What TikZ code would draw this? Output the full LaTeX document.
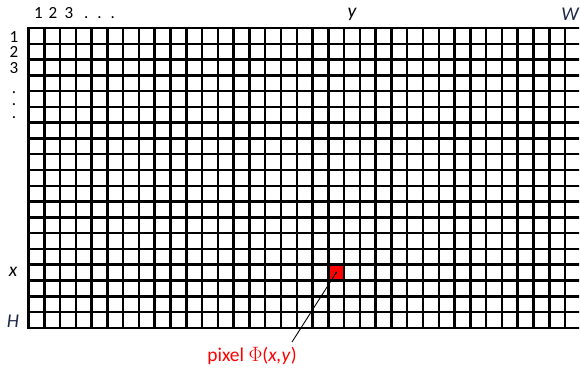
\documentclass[tikz,border=0pt]{standalone}
\usepackage{fontspec}
\setmainfont{Carlito}
\definecolor{navy}{HTML}{1F2A4A}
\definecolor{pixred}{HTML}{FF0000}
\begin{document}
\begin{tikzpicture}[x=1pt,y=-1pt,
  gridline/.style={line width=2.5pt,black},
  numlbl/.style={font=\fontsize{17}{17}\selectfont,inner sep=0pt},
  dotlbl/.style={font=\fontsize{17}{12.5}\selectfont,inner sep=0pt,align=center},
  varlbl/.style={font=\fontsize{19.5}{19.5}\selectfont\itshape,inner sep=0pt},
  redlbl/.style={font=\fontsize{19.5}{19.5}\selectfont,text=pixred,inner sep=0pt}]
\useasboundingbox (0,0) rectangle (580,372);
\def\px{15.78}
% red pixel
\fill[pixred] (28.5+19*\px,28+15*\px) rectangle (28.5+20*\px,28+16*\px);
\node[inner sep=0pt,minimum size=1pt] (pix) at (28.5+19.5*\px,28+15.5*\px) {};
% grid
\begin{scope}
\clip (0,0) rectangle (579,372);
\foreach \i in {0,...,35} {
  \draw[gridline] (28.5+\i*\px,28) -- (28.5+\i*\px,28+19*\px);
}
\foreach \j in {0,...,19} {
  \draw[gridline,line cap=rect] (28.5,28+\j*\px) -- (28.5+35*\px,28+\j*\px);
}
\end{scope}
% top labels
\node[numlbl] (t1) at (38.5,13) {1};
\node[numlbl] (t2) at (53,13) {2};
\node[numlbl] (t3) at (69,13) {3};
\node[numlbl,anchor=base] (tdots) at (99.5,18) {.\hspace{9pt}.\hspace{9pt}.};
% left labels
\node[numlbl] (l1) at (14,37) {1};
\node[numlbl] (l2) at (14,52) {2};
\node[numlbl] (l3) at (14,68) {3};
\node[dotlbl,anchor=north] (ldots) at (14,91) {.\\.\\.};
% variable labels
\node[varlbl,text=black] (ly) at (352,14) {y};
\node[varlbl,text=navy] (lw) at (570,14) {W};
\node[varlbl,text=black] (lx) at (13,272) {x};
\node[varlbl,text=navy] (lh) at (13,321) {H};
% pixel label
\node[redlbl] (plab) at (252,356) {pixel $\Phi$(\textit{x,y})};
\fill[black!80] (pix) circle (1.2);
\draw[line width=0.9pt,black] (pix.center) -- (292,342);
\end{tikzpicture}
\end{document}
